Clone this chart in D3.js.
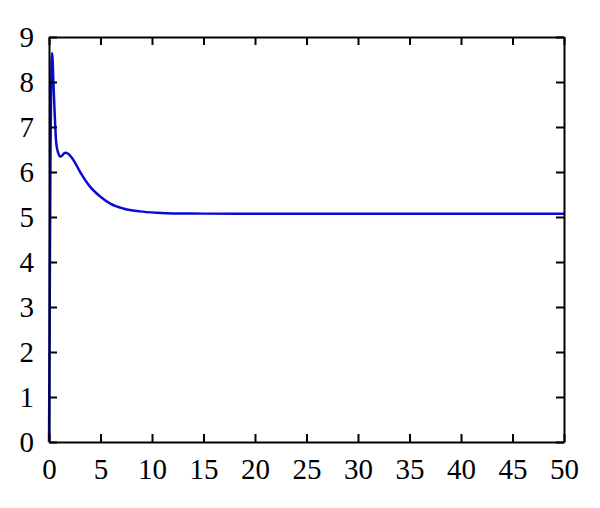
<!DOCTYPE html>
<html>
<head>
<meta charset="utf-8">
<script src="https://cdn.jsdelivr.net/npm/d3@7"></script>
<style>
  body { margin: 0; background: #fff; }
  svg text { font-family: "Liberation Serif", "DejaVu Serif", serif; }
</style>
</head>
<body>
<script>
// values
var tVals = [0, 0.05, 0.1, 0.15, 0.2, 0.25, 0.29, 0.34, 0.42, 0.55, 0.68, 0.8, 0.9, 1.07, 1.25, 1.45,
             1.65, 1.9, 2.36, 3.0, 4.0, 5.0, 6.0, 7.2, 8.0, 8.8, 10.5, 12.1, 15, 20, 30, 50];
var yVals = [0, 2.0, 4.5, 6.5, 7.8, 8.45, 8.64, 8.55, 8.04, 7.3, 6.71, 6.5, 6.42, 6.34, 6.36, 6.41,
             6.43, 6.40, 6.27, 6.01, 5.67, 5.45, 5.29, 5.19, 5.15, 5.125, 5.095, 5.08, 5.075, 5.07, 5.07, 5.07];
var xTicks = [0, 5, 10, 15, 20, 25, 30, 35, 40, 45, 50];
var yTicks = [0, 1, 2, 3, 4, 5, 6, 7, 8, 9];

var W = 600, H = 508;
var plotL = 49, plotR = 564, plotT = 37, plotB = 442;

var svg = d3.select("body").append("svg")
  .attr("width", W)
  .attr("height", H);

var x = d3.scaleLinear().domain([0, 50]).range([plotL, plotR]);
var y = d3.scaleLinear().domain([0, 9]).range([plotB, plotT]);

// curve first, axes drawn on top
var pts = tVals.map(function(t, i) { return [t, yVals[i]]; });
var line = d3.line()
  .x(function(d) { return x(d[0]); })
  .y(function(d) { return y(d[1]); })
  .curve(d3.curveMonotoneX);

svg.append("path")
  .datum(pts)
  .attr("d", line)
  .attr("fill", "none")
  .attr("stroke", "#0a0ad8")
  .attr("stroke-width", 2.5);

var tick = 8;

// bottom axis with labels
var gB = svg.append("g").attr("transform", "translate(0," + plotB + ")")
  .call(d3.axisBottom(x).tickValues(xTicks).tickSizeInner(-tick).tickSizeOuter(0).tickPadding(16));
// left axis with labels
var gL = svg.append("g").attr("transform", "translate(" + plotL + ",0)")
  .call(d3.axisLeft(y).tickValues(yTicks).tickSizeInner(-tick).tickSizeOuter(0).tickPadding(15));
// top and right axes, no labels
var gT = svg.append("g").attr("transform", "translate(0," + plotT + ")")
  .call(d3.axisTop(x).tickValues(xTicks).tickSizeInner(-tick).tickSizeOuter(0).tickFormat(""));
var gR = svg.append("g").attr("transform", "translate(" + plotR + ",0)")
  .call(d3.axisRight(y).tickValues(yTicks).tickSizeInner(-tick).tickSizeOuter(0).tickFormat(""));

[gB, gL, gT, gR].forEach(function(g) {
  g.select(".domain").attr("stroke", "#000").attr("stroke-width", 2);
  g.selectAll(".tick line").attr("stroke", "#000").attr("stroke-width", 2);
  g.selectAll(".tick text")
    .attr("fill", "#000")
    .style("font-size", "29px")
    .style("font-family", "'Liberation Serif', serif");
});
</script>
</body>
</html>
